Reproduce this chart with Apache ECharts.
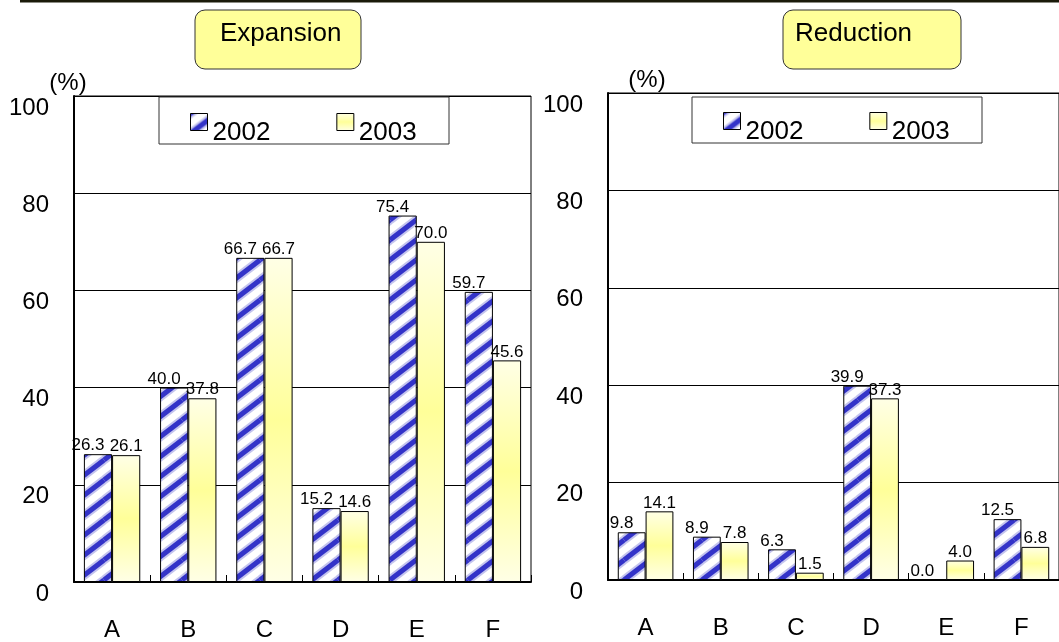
<!DOCTYPE html>
<html><head><meta charset="utf-8">
<script src="https://cdn.jsdelivr.net/npm/echarts@6.0.0/dist/echarts.min.js"></script>
<style>html,body{margin:0;padding:0;background:#fff}#c{width:1059px;height:642px}</style>
</head><body><div id="c"></div>
<script>
// ---- data ----
const categories = ['A', 'B', 'C', 'D', 'E', 'F'];
const seriesNames = ['2002', '2003'];
const panelTitles = ['Expansion', 'Reduction'];
const expansion2002 = [26.3, 40.0, 66.7, 15.2, 75.4, 59.7];
const expansion2003 = [26.1, 37.8, 66.7, 14.6, 70.0, 45.6];
const reduction2002 = [9.8, 8.9, 6.3, 39.9, 0.0, 12.5];
const reduction2003 = [14.1, 7.8, 1.5, 37.3, 4.0, 6.8];
const yMin = 0, yMax = 100, yStep = 20;
const unitLabel = '(%)';

// ---- styles ----
const FONT = '"Liberation Sans", Arial, sans-serif';
function stripeCanvas() {
  const W = 26, H = 20;
  const c = document.createElement('canvas');
  c.width = W; c.height = H;
  const g = c.getContext('2d');
  g.fillStyle = '#ffffff'; g.fillRect(0, 0, W, H);
  [[9, '#c4c4ee'], [5, '#3333c8']].forEach(([lw, col]) => {
    g.strokeStyle = col; g.lineWidth = lw;
    for (let dx = -W; dx <= W; dx += W) for (let dy = -H; dy <= H; dy += H) {
      g.beginPath(); g.moveTo(dx, H + dy); g.lineTo(W + dx, dy); g.stroke();
    }
  });
  return c;
}
const stripeFill = { image: stripeCanvas(), repeat: 'repeat' };
const yellowFill = { type: 'linear', x: 0, y: 0, x2: 0, y2: 1, colorStops: [
  { offset: 0, color: '#ffffe6' }, { offset: 0.5, color: '#ffff99' }, { offset: 1, color: '#ffffe6' }] };

const grids = [
  { left: 74, top: 96, width: 457, height: 487 },
  { left: 608, top: 93, width: 459, height: 487 }
];
const namePads = [[0, 12, 0, 0], [0, 0, 0, 78]];

function xAxis(i) {
  return {
    type: 'category', gridIndex: i, data: categories,
    axisLine: { lineStyle: { color: '#000', width: 2 } },
    axisTick: { show: true, inside: true, length: 7, lineStyle: { color: '#000', width: 1 } },
    axisLabel: { fontSize: 24, margin: 36, color: '#000', fontFamily: FONT }
  };
}
function yAxis(i) {
  return {
    type: 'value', gridIndex: i, min: yMin, max: yMax, interval: yStep,
    name: unitLabel, nameLocation: 'end', nameGap: 1,
    nameTextStyle: { fontSize: 24, color: '#000', fontFamily: FONT, padding: namePads[i] },
    axisLine: { show: true, lineStyle: { color: '#000', width: 2 } },
    axisTick: { show: false },
    splitLine: { show: true, lineStyle: { color: '#000', width: 1 } },
    axisLabel: { fontSize: 24, margin: 25, color: '#000', fontFamily: FONT, verticalAlign: 'top' }
  };
}
function bar(name, data, i, fill, dx) {
  return {
    type: 'bar', name, data, xAxisIndex: i, yAxisIndex: i,
    barGap: '0%', barCategoryGap: '26%',
    itemStyle: { color: fill, borderColor: '#000', borderWidth: 1 },
    label: { show: true, position: 'top', distance: 0, offset: [dx, 0], fontSize: 17,
      color: '#000', fontFamily: FONT, formatter: p => Number(p.value).toFixed(1) },
    emphasis: { disabled: true }
  };
}
function legend(left, top) {
  return {
    left, top, padding: 0, icon: 'rect', itemWidth: 17, itemHeight: 17, itemGap: 66, data: seriesNames,
    z: 10, selectedMode: false,
    itemStyle: { borderColor: '#000', borderWidth: 1 },
    formatter: '{t|{name}}',
    textStyle: { fontSize: 26, color: '#000', fontFamily: FONT,
      rich: { t: { fontSize: 26, fontFamily: FONT, color: '#000', padding: [22, 0, 0, 0] } } }
  };
}
function titleBox(x, w, text, tx) {
  return { type: 'group', children: [
    { type: 'rect', shape: { x, y: 10, width: w, height: 59, r: 10 },
      style: { fill: '#ffff99', stroke: '#333', lineWidth: 1 } },
    { type: 'text', x: tx, y: 34, style: { text, fontSize: 26, fontFamily: FONT, fill: '#000', verticalAlign: 'middle' } }
  ] };
}

const chart = echarts.init(document.getElementById('c'), null, { renderer: 'canvas' });
chart.setOption({
  animation: false,
  backgroundColor: '#fff',
  grid: grids.map(g => Object.assign({ show: true, borderColor: '#000', borderWidth: 1 }, g)),
  xAxis: [xAxis(0), xAxis(1)],
  yAxis: [yAxis(0), yAxis(1)],
  legend: [legend(190, 113), legend(723, 112)],
  series: [
    bar(seriesNames[0], expansion2002, 0, stripeFill, -10),
    bar(seriesNames[1], expansion2003, 0, yellowFill, 0),
    bar(seriesNames[0], reduction2002, 1, stripeFill, -10),
    bar(seriesNames[1], reduction2003, 1, yellowFill, 0)
  ],
  graphic: [
    { type: 'line', shape: { x1: 20, y1: 1, x2: 1059, y2: 1 }, style: { stroke: '#1a1a0a', lineWidth: 3 } },
    titleBox(195, 166, panelTitles[0], 220),
    titleBox(783, 178, panelTitles[1], 795),
    { type: 'rect', z: 5, shape: { x: 159, y: 97, width: 290, height: 47 }, style: { fill: '#fff', stroke: '#333', lineWidth: 1 } },
    { type: 'rect', z: 5, shape: { x: 692, y: 97, width: 290, height: 46 }, style: { fill: '#fff', stroke: '#333', lineWidth: 1 } }
  ]
});
</script></body></html>
